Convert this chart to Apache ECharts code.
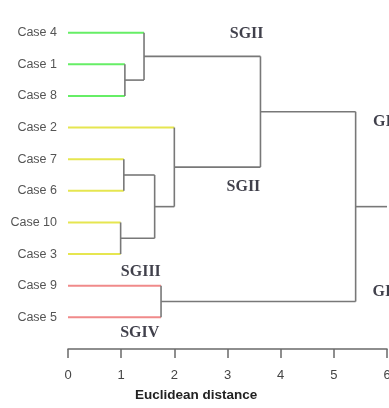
<!DOCTYPE html>
<html>
<head>
<meta charset="utf-8">
<script src="https://cdn.jsdelivr.net/npm/echarts@6/dist/echarts.min.js"></script>
<style>
  html, body { margin: 0; padding: 0; background: #fff; }
  #chart { width: 389px; height: 408px; }
</style>
</head>
<body>
<div id="chart"></div>
<script>
// leaves, top to bottom
const leaves = ['Case 4', 'Case 1', 'Case 8', 'Case 2', 'Case 7', 'Case 6', 'Case 10', 'Case 3', 'Case 9', 'Case 5'];
const leafGroup = [0, 0, 0, 1, 1, 1, 1, 1, 2, 2];
const groupColors = ['#66ee66', '#e6e650', '#f08a8a'];

// hclust style merges: negative = leaf (1-based), positive = earlier merge (1-based)
const mergeA = [-7, -5, -2, -1, 2, -9, -4, 4, 8];
const mergeB = [-8, -6, -3, 3, 1, -10, 5, 7, 6];
const mergeHeight = [0.99, 1.05, 1.07, 1.43, 1.63, 1.75, 2.0, 3.62, 5.41];
const rootEnd = 6.0;

const xTicks = [0, 1, 2, 3, 4, 5, 6];

// cluster annotations
const noteText = ['SGII', 'SGII', 'SGIII', 'SGIV', 'GI', 'GII'];
const noteX = [3.36, 3.30, 1.37, 1.35, 5.72, 5.71];
const noteY = [0.03, 4.87, 7.56, 9.50, 2.81, 8.19];

// positions of every node
const mergeY = [];
const parentHeight = {};
mergeA.forEach((a, i) => {
  const b = mergeB[i];
  const ya = a < 0 ? -a - 1 : mergeY[a - 1];
  const yb = b < 0 ? -b - 1 : mergeY[b - 1];
  mergeY.push((ya + yb) / 2);
  parentHeight[a] = mergeHeight[i];
  parentHeight[b] = mergeHeight[i];
});
parentHeight[mergeA.length] = rootEnd;

const grey = '#787878';
const links = [];
// leaf branches
leaves.forEach((name, i) => {
  links.push({
    coords: [[0, i], [parentHeight[-(i + 1)], i]],
    lineStyle: { color: groupColors[leafGroup[i]], width: 2, opacity: 1 }
  });
});
// internal branches
mergeA.forEach((a, i) => {
  const b = mergeB[i];
  const h = mergeHeight[i];
  const ya = a < 0 ? -a - 1 : mergeY[a - 1];
  const yb = b < 0 ? -b - 1 : mergeY[b - 1];
  links.push({ coords: [[h, ya], [h, yb]], lineStyle: { color: grey, width: 1.6, opacity: 1 } });
  links.push({ coords: [[h, mergeY[i]], [parentHeight[i + 1], mergeY[i]]], lineStyle: { color: grey, width: 1.6, opacity: 1 } });
});

const chart = echarts.init(document.getElementById('chart'));
chart.setOption({
  animation: false,
  backgroundColor: '#fff',
  grid: { left: 68, right: 2, top: 1, bottom: 59, containLabel: false, outerBoundsMode: 'none' },
  xAxis: {
    type: 'value',
    position: 'bottom',
    min: xTicks[0],
    max: xTicks[xTicks.length - 1],
    interval: 1,
    axisLine: { show: true, onZero: false, lineStyle: { color: '#6a6a6a', width: 1.5 } },
    axisTick: { show: true, length: 9, lineStyle: { color: '#6a6a6a', width: 1.5 } },
    axisLabel: { color: '#444', fontSize: 13, margin: 20, fontFamily: 'Liberation Sans' },
    splitLine: { show: false }
  },
  yAxis: {
    type: 'value',
    inverse: true,
    min: -1,
    max: leaves.length,
    interval: 1,
    axisLine: { show: false },
    axisTick: { show: false },
    splitLine: { show: false },
    axisLabel: {
      color: '#555',
      fontSize: 12.5,
      margin: 11,
      fontFamily: 'Liberation Sans',
      formatter: (v) => leaves[v] || ''
    }
  },
  graphic: [{
    type: 'text',
    left: 135,
    top: 388,
    style: { text: 'Euclidean distance', fill: '#222', font: 'bold 13.5px "Liberation Sans"' }
  }],
  series: [
    {
      type: 'lines',
      coordinateSystem: 'cartesian2d',
      polyline: true,
      silent: true,
      lineStyle: { opacity: 1 },
      data: links
    },
    {
      type: 'scatter',
      symbol: 'circle',
      symbolSize: 2,
      silent: true,
      itemStyle: { color: 'rgba(0,0,0,0)' },
      data: noteText.map((t, i) => ({
        value: [noteX[i], noteY[i]],
        label: {
          show: true,
          position: i >= 4 ? 'right' : 'inside',
          distance: 0,
          formatter: t,
          color: '#10101e',
          fontSize: 16,
          fontWeight: 'bold',
          fontFamily: 'Liberation Serif'
        }
      }))
    }
  ]
});
</script>
</body>
</html>
